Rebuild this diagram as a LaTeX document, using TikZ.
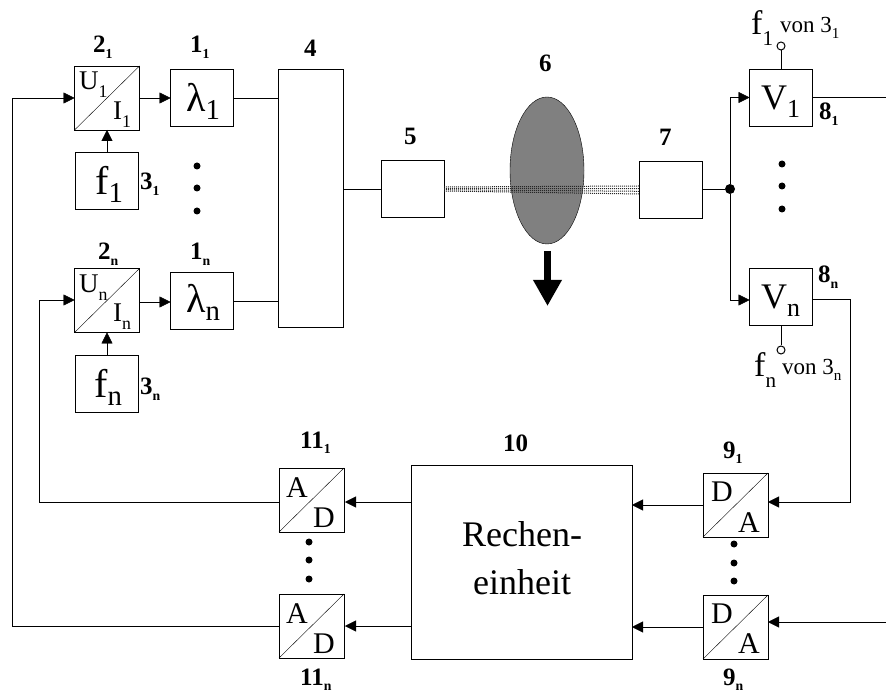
\documentclass[tikz,border=0pt]{standalone}
\usepackage{fontspec}
\setmainfont{Liberation Serif}
\usetikzlibrary{positioning,arrows.meta,shapes.geometric}
\newcommand{\idx}[1]{\raisebox{-0.26em}{\scalebox{0.66}{#1}}}
\newcommand{\idxb}[1]{\raisebox{-0.2em}{\scalebox{0.72}{#1}}}
\newcommand{\idxr}[1]{\raisebox{-0.3em}{\scalebox{0.62}{#1}}}
\newcommand{\idxt}[1]{\raisebox{-0.22em}{\scalebox{0.55}{#1}}}
\tikzset{
>={Triangle[length=11pt,width=11pt]},
line width=1.4pt,
block/.style={draw, outer sep=0pt, inner sep=0pt, minimum width=63pt, minimum height=57pt},
conv/.style={draw, outer sep=0pt, inner sep=0pt, minimum width=65pt, minimum height=64pt},
convtext/.style={anchor=base west, inner sep=0pt, font=\fontsize{27}{30}\selectfont},
adtext/.style={anchor=base west, inner sep=0pt, font=\fontsize{30}{32}\selectfont},
tag/.style={anchor=base west, inner sep=0pt, font=\fontsize{25}{27}\selectfont\bfseries},
vontext/.style={anchor=base west, inner sep=0pt, font=\fontsize{23}{24}\selectfont},
bigf/.style={anchor=base west, inner sep=0pt, font=\fontsize{40}{42}\selectfont},
midf/.style={anchor=base west, inner sep=0pt, font=\fontsize{34}{36}\selectfont},
dotn/.style={circle, fill=black, inner sep=0pt, minimum size=7pt},
tap/.style={circle, draw, fill=white, line width=1pt, inner sep=0pt, minimum size=8pt},
fiber/.style={line width=1pt, dash pattern=on 1pt off 1pt, black!85},
}

\begin{document}
\begin{tikzpicture}
    [x=1pt, y=-1pt]

    \useasboundingbox (0,0) rectangle (886,692);

    % senders
    \node [conv] (u1) at (107,98) {};
    \node [block] (la1) [right=31pt of u1] {};
    \node [block] (f1) [below=22pt of u1] {};

    \node [conv] (un) at (107,300.5) {};
    \node [block] (lan) [right=31pt of un] {};
    \node [block] (fn) [below=23pt of un] {};

    \node [convtext] (u1a) at (79,90) {U\idx{1}};
    \node [convtext] (u1b) at (113,120) {I\idx{1}};
    \node [convtext] (una) at (79,293) {U\idx{n}};
    \node [convtext] (unb) at (113,322) {I\idx{n}};
    \node [bigf] (la1t) at (186,112) {λ\idxb{1}};
    \node [bigf] (lant) at (186,313) {λ\idxb{n}};
    \node [bigf] (f1t) at (95,195) {f\idxb{1}};
    \node [bigf] (fnt) at (94,397) {f\idxb{n}};

    % path
    \node [draw, outer sep=0pt, minimum width=65pt, minimum height=258pt] (mux) at (310.5,198) {};
    \node [block] (c5) at (412.5,189) {};
    \node [block] (c7) at (670.5,190) {};
    \node [draw, ellipse, fill=black!50, outer sep=0pt, inner sep=0pt, minimum width=74pt, minimum height=147pt] (ell) at (547,170.5) {};

    % receivers
    \node [block] (v1) at (781,97.5) {};
    \node [block] (vn) at (781,297) {};
    \node [bigf, font=\fontsize{36}{42}\selectfont] (v1t) at (761,110) {V\idxb{1}};
    \node [bigf, font=\fontsize{36}{42}\selectfont] (vnt) at (761,309) {V\idxb{n}};
    \node [dotn, minimum size=10pt] (jn) at (730,189) {};
    \node [tap] (tap1) at (781,46) {};
    \node [tap] (tapn) [below=20pt of vn] {};

    % lower row
    \node [draw, outer sep=0pt, inner sep=0pt, minimum width=221pt, minimum height=194pt] (rec) at (521.5,562.5) {};
    \node [align=center, inner sep=0pt, font=\fontsize{36}{48}\selectfont] (rect) at (522,558) {Rechen-\\einheit};
    \node [conv] (d1) at (735.5,505) {};
    \node [conv] (dn) at (735.5,627) {};
    \node [conv] (a1) at (311.5,500) {};
    \node [conv] (an) at (311.5,626) {};

    \node [adtext] (d1a) at (711,501) {D};
    \node [adtext] (d1b) at (738,532) {A};
    \node [adtext] (dna) at (711,623) {D};
    \node [adtext] (dnb) at (738,653) {A};
    \node [adtext] (a1a) at (286,497) {A};
    \node [adtext] (a1b) at (313,527) {D};
    \node [adtext] (ana) at (286,623) {A};
    \node [adtext] (anb) at (313,653) {D};

    % dots
    \node [dotn] (p1) at (197,166) {};
    \node [dotn] (p2) at (197,188) {};
    \node [dotn] (p3) at (197,211) {};
    \node [dotn] (p4) at (782,164) {};
    \node [dotn] (p5) at (782,186) {};
    \node [dotn] (p6) at (782,209) {};
    \node [dotn] (p7) at (309,542) {};
    \node [dotn] (p8) at (309,560) {};
    \node [dotn] (p9) at (309,579) {};
    \node [dotn] (p10) at (734,544) {};
    \node [dotn] (p11) at (734,563) {};
    \node [dotn] (p12) at (734,581) {};

    % numbers
    \node [tag] (t21) at (93,53) {2\idxt{1}};
    \node [tag] (t11) at (190,53) {1\idxt{1}};
    \node [tag] (t31) at (140,190) {3\idxt{1}};
    \node [tag] (t2n) at (98,260) {2\idxt{n}};
    \node [tag] (t1n) at (190,260) {1\idxt{n}};
    \node [tag] (t3n) at (140,395) {3\idxt{n}};
    \node [tag] (t4) at (304,57) {4};
    \node [tag] (t5) at (404,145) {5};
    \node [tag] (t6) at (539,72) {6};
    \node [tag] (t7) at (659,146) {7};
    \node [tag] (t81) at (819,120) {8\idxt{1}};
    \node [tag] (t8n) at (818,283) {8\idxt{n}};
    \node [tag] (t91) at (723,458) {9\idxt{1}};
    \node [tag] (t9n) at (723,685) {9\idxt{n}};
    \node [tag] (t10) at (503,451) {10};
    \node [tag] (t111) at (300,448) {11\idxt{1}};
    \node [tag] (t11n) at (300,685) {11\idxt{n}};

    \node [midf] (f1r) at (751,35) {f\idxr{1}};
    \node [vontext] (von1) at (780,33) {von 3\idx{1}};
    \node [midf] (fnr) at (754,377) {f\idxr{n}};
    \node [vontext] (vonn) at (782,375) {von 3\idx{n}};

    % free ends
    \coordinate (back1) at (39,502);
    \coordinate (back2) at (12,626);
    \coordinate (out1) at (886,97.5);
    \coordinate (turn) at (850,400);
    \coordinate (inn) at (886,622);
    \coordinate (arrs) at (547.5,251);
    \coordinate (arre) at (547.5,306);

    % splits
    \draw (u1.south west) -- (u1.north east);
    \draw (un.south west) -- (un.north east);
    \draw (d1.south west) -- (d1.north east);
    \draw (dn.south west) -- (dn.north east);
    \draw (a1.south west) -- (a1.north east);
    \draw (an.south west) -- (an.north east);

    % fibre
    \draw [fiber] ([yshift=2pt]c5.east) -- ([yshift=4pt]c7.west);
    \draw [fiber] ([yshift=0.7pt]c5.east) -- ([yshift=1.3pt]c7.west);
    \draw [fiber] ([yshift=-0.7pt]c5.east) -- ([yshift=-1.3pt]c7.west);
    \draw [fiber] ([yshift=-2pt]c5.east) -- ([yshift=-4pt]c7.west);

    \draw [line width=7pt, -{Triangle[length=26pt,width=27pt]}] (arrs) -- (arre);

    % connectors
    \draw [->] (back2) |- (u1.west);
    \draw (an.west) -- (back2);
    \draw [->] (back1) |- ([yshift=0.5pt]un.west);
    \draw (a1.west |- back1) -- (back1);
    \draw [->] (u1) -- (u1 -| la1.west);
    \draw [->] ([yshift=-1.5pt]un.east) -- ([yshift=-1.5pt]lan.west);
    \draw [->] (f1) -- (u1);
    \draw [->] (fn) -- (un);
    \draw (la1.east) -- (la1.east -| mux.west);
    \draw ([yshift=-0.5pt]lan.east) -- ([yshift=-0.5pt]lan.east -| mux.west);
    \draw (c5.west) -- (c5.west -| mux.east);
    \draw (c7.east |- jn) -- (jn);
    \draw [->] (jn) |- (v1.west);
    \draw [->] (jn) |- ([yshift=-3pt]vn.west);
    \draw (v1.east) -- (out1);
    \draw [line width=1pt] (v1.north) -- (tap1);
    \draw [line width=1pt] (vn.south) -- (tapn);
    \draw [->] ([yshift=-2pt]vn.east) -| (turn) |- ([yshift=3pt]d1.east);
    \draw [->] (inn) -- ([yshift=5pt]dn.east);
    \draw [->] (d1.west) -- (d1.west -| rec.east);
    \draw [->] (dn.west) -- (dn.west -| rec.east);
    \draw [->, shorten >=1pt] (rec.west |- back1) -- ([yshift=-2pt]a1.east);
    \draw [->, shorten >=1pt] (rec.west |- an.east) -- (an.east);

\end{tikzpicture}
\end{document}
